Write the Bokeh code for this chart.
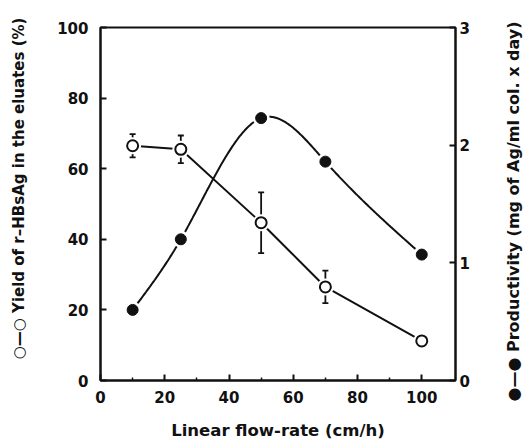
import numpy as np
from bokeh.plotting import figure
from bokeh.layouts import row
from bokeh.models import (Range1d, LinearAxis, FixedTicker, Whisker, TeeHead,
                          ColumnDataSource)
from bokeh.embed import file_html
from bokeh.resources import INLINE

# ---- data ----
flow = [10, 25, 50, 70, 100]                 # linear flow-rate (cm/h)
yield_pct = [66.5, 65.5, 44.7, 26.5, 11.2]   # yield of r-HBsAg (%)
yield_err = [3.3, 3.9, 8.6, 4.6, 0.0]        # error bar half-length (%)
productivity = [0.60, 1.20, 2.23, 1.86, 1.07]  # mg Ag / ml col. x day

x_ticks = [0, 20, 40, 60, 80, 100]
x_minor = [10, 30, 50, 70, 90]
left_ticks = [0, 20, 40, 60, 80, 100]
right_ticks = [0, 1, 2, 3]

x_title = "Linear flow-rate (cm/h)"
left_title = "○—○ Yield of r–HBsAg in the eluates (%)"
right_title = "●—● Productivity (mg of Ag/ml col. x day)"

FONT = "DejaVu Sans"
INK = "#111111"
H = 443


def natural_spline(xs, ys, n=300):
    xs = np.asarray(xs, float)
    ys = np.asarray(ys, float)
    k = len(xs)
    h = np.diff(xs)
    A = np.zeros((k, k))
    b = np.zeros(k)
    A[0, 0] = A[-1, -1] = 1
    for i in range(1, k - 1):
        A[i, i - 1] = h[i - 1]
        A[i, i] = 2 * (h[i - 1] + h[i])
        A[i, i + 1] = h[i]
        b[i] = 3 * ((ys[i + 1] - ys[i]) / h[i] - (ys[i] - ys[i - 1]) / h[i - 1])
    c = np.linalg.solve(A, b)
    xx = np.linspace(xs[0], xs[-1], n)
    idx = np.clip(np.searchsorted(xs, xx) - 1, 0, k - 2)
    dx = xx - xs[idx]
    bc = (ys[1:] - ys[:-1]) / h - h * (2 * c[:-1] + c[1:]) / 3
    d = (c[1:] - c[:-1]) / (3 * h)
    yy = ys[idx] + bc[idx] * dx + c[idx] * dx ** 2 + d[idx] * dx ** 3
    return xx, yy


def title_panel(width, text, border_left, border_bottom, size):
    """Narrow figure whose only visible element is a left-axis label (reads bottom-to-top)."""
    s = figure(width=width, height=H, x_range=Range1d(0, 1), y_range=Range1d(0, 1),
               x_axis_type=None, output_backend="svg", toolbar_location=None,
               min_border_left=border_left, min_border_right=0,
               min_border_top=0, min_border_bottom=border_bottom)
    s.frame_align = False
    s.outline_line_color = None
    s.xgrid.visible = False
    s.ygrid.visible = False
    ax = s.yaxis[0]
    ax.ticker = FixedTicker(ticks=[], minor_ticks=[])
    ax.axis_line_color = None
    ax.major_tick_out = 0
    ax.major_tick_in = 0
    ax.minor_tick_out = 0
    ax.minor_tick_in = 0
    ax.major_label_standoff = 0
    ax.axis_label = text
    ax.axis_label_standoff = 0
    ax.axis_label_text_font = FONT
    ax.axis_label_text_font_size = size
    ax.axis_label_text_font_style = "bold"
    ax.axis_label_text_color = INK
    return s


p = figure(width=467, height=H, x_range=Range1d(0, 110.5), y_range=Range1d(0, 100),
           output_backend="svg", toolbar_location=None,
           min_border_left=70, min_border_right=42, min_border_top=27, min_border_bottom=63)
p.frame_align = False
p.extra_y_ranges = {"prod": Range1d(0, 3)}
p.xgrid.visible = False
p.ygrid.visible = False
p.outline_line_color = INK
p.outline_line_width = 2
p.background_fill_color = "white"
p.border_fill_color = "white"

right_axis = LinearAxis(y_range_name="prod")
p.add_layout(right_axis, "right")

for ax in [p.xaxis[0], p.yaxis[0], right_axis]:
    ax.axis_line_color = INK
    ax.axis_line_width = 2
    ax.major_tick_line_color = INK
    ax.major_tick_line_width = 2
    ax.major_tick_out = 0
    ax.major_tick_in = 6
    ax.minor_tick_line_color = INK
    ax.minor_tick_line_width = 1.5
    ax.minor_tick_out = 0
    ax.minor_tick_in = 3
    ax.major_label_text_font = FONT
    ax.major_label_text_font_size = "15px"
    ax.major_label_text_font_style = "bold"
    ax.major_label_text_color = INK

p.xaxis[0].ticker = FixedTicker(ticks=x_ticks, minor_ticks=x_minor)
p.xaxis[0].major_label_standoff = 10
p.xaxis[0].axis_label = x_title
p.xaxis[0].axis_label_text_font = FONT
p.xaxis[0].axis_label_text_font_size = "16.5px"
p.xaxis[0].axis_label_text_font_style = "bold"
p.xaxis[0].axis_label_text_color = INK
p.xaxis[0].axis_label_standoff = 15

p.yaxis[0].ticker = FixedTicker(ticks=left_ticks, minor_ticks=[])
p.yaxis[0].major_label_standoff = 12
right_axis.ticker = FixedTicker(ticks=right_ticks, minor_ticks=[])
right_axis.major_label_standoff = 4

# ---- productivity: smooth curve through filled circles (right axis) ----
sx, sy = natural_spline(flow, productivity)
p.line(sx, sy, y_range_name="prod", line_color=INK, line_width=2)

# ---- yield: straight segments through open circles ----
p.line(flow, yield_pct, line_color=INK, line_width=2)

# white halos to leave small gaps around markers
p.scatter(flow, productivity, y_range_name="prod", size=17, fill_color="white", line_color=None)
p.scatter(flow, yield_pct, size=17, fill_color="white", line_color=None)

# error bars
src = ColumnDataSource(dict(x=flow,
                            lo=[y - e for y, e in zip(yield_pct, yield_err)],
                            hi=[y + e for y, e in zip(yield_pct, yield_err)]))
w = Whisker(source=src, base="x", lower="lo", upper="hi", dimension="height",
            line_color=INK, line_width=1.8,
            lower_head=TeeHead(size=6, line_color=INK, line_width=1.8),
            upper_head=TeeHead(size=6, line_color=INK, line_width=1.8))
p.add_layout(w)

# markers
p.scatter(flow, productivity, y_range_name="prod", size=11, fill_color=INK, line_color=INK)
p.scatter(flow, yield_pct, size=11, fill_color="white", line_color=INK, line_width=2)

left_panel = title_panel(30, left_title, 27, H - 2 * 188, "15px")
right_panel = title_panel(26, right_title, 25, H - 2 * 211, "16px")

layout = row(left_panel, p, right_panel, spacing=0)
open("out.html", "w").write(file_html(layout, INLINE))
